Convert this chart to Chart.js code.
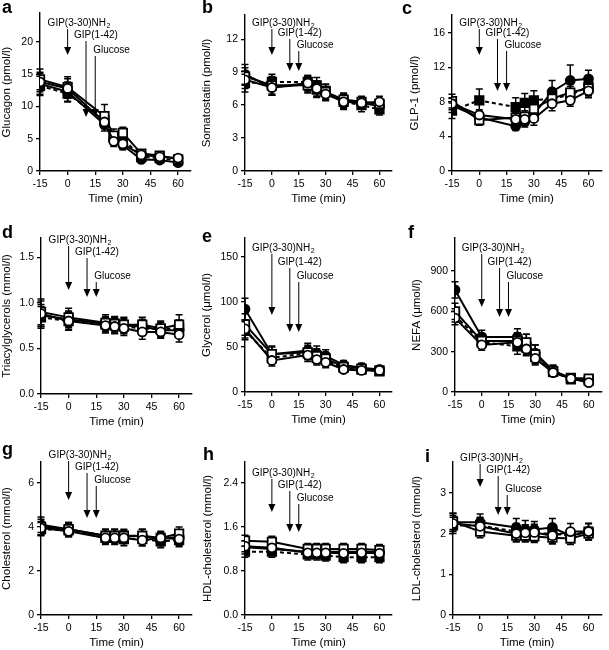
<!DOCTYPE html>
<html>
<head>
<meta charset="utf-8">
<script src="https://cdn.jsdelivr.net/npm/chart.js@4.4.1/dist/chart.umd.min.js"></script>
<style>
body { margin: 0; background: #fff; }
#wrap { position: relative; width: 609px; height: 650px; }
canvas { position: absolute; }
</style>
</head>
<body>
<div id="wrap"></div>
<script>
// sampling times (min) and x tick labels
const times = [-15, 0, 20, 25, 30, 40, 50, 60];
const xTicks = [-15, 0, 15, 30, 45, 60];

// each panel: [filled circle, open circle, filled square (dashed), open square]
const glucagon = [
    [13.5, 12.3, 7.2, 5.0, 4.0, 1.8, 1.7, 1.3],
    [13.8, 12.8, 7.6, 4.6, 4.2, 2.5, 2.2, 2.0],
    [13.2, 12.0, 7.8, 5.2, 5.0, 2.2, 2.0, 1.6],
    [14.2, 13.0, 8.5, 5.5, 5.9, 2.7, 2.4, 1.8]
];
const glucagonErr = [
    [1.6, 1.5, 1.0, 0.8, 0.7, 0.5, 0.4, 0.4],
    [1.5, 1.5, 1.0, 0.8, 0.6, 0.5, 0.4, 0.3],
    [1.5, 1.3, 1.1, 0.9, 0.8, 0.5, 0.4, 0.4],
    [1.6, 1.6, 1.8, 1.0, 0.9, 0.5, 0.5, 0.4]
];
const glucagonTicks = [0, 5, 10, 15, 20];

const somatostatin = [
    [8.8, 7.6, 7.9, 7.5, 7.1, 6.4, 6.2, 5.9],
    [8.3, 7.6, 8.0, 7.5, 7.0, 6.3, 6.2, 6.3],
    [8.0, 8.1, 8.1, 7.8, 7.3, 6.3, 6.0, 5.6],
    [8.6, 7.8, 7.8, 7.4, 7.2, 6.5, 6.3, 6.1]
];
const somatostatinErr = [
    [0.9, 0.7, 0.7, 0.7, 0.6, 0.6, 0.5, 0.5],
    [0.8, 0.7, 0.7, 0.7, 0.6, 0.7, 0.5, 0.5],
    [0.8, 0.7, 0.6, 0.7, 0.6, 0.6, 0.6, 0.5],
    [0.8, 0.8, 0.7, 0.7, 0.7, 0.6, 0.5, 0.5]
];
const somatostatinTicks = [0, 3, 6, 9, 12];

const glp1 = [
    [7.6, 6.2, 5.2, 5.7, 6.6, 9.2, 10.5, 10.7],
    [7.8, 6.5, 6.0, 6.0, 6.1, 7.8, 8.2, 9.3],
    [7.0, 8.2, 7.4, 7.9, 8.2, 8.4, 8.8, 9.8],
    [8.1, 5.9, 6.2, 6.3, 7.2, 8.4, 9.1, 9.6]
];
const glp1Err = [
    [0.8, 0.6, 0.5, 0.6, 0.7, 1.3, 1.8, 1.0],
    [0.7, 0.6, 0.6, 0.7, 0.8, 0.8, 0.7, 0.8],
    [0.9, 1.3, 1.1, 1.1, 1.1, 0.9, 1.0, 1.0],
    [0.8, 0.6, 0.6, 0.7, 0.8, 0.9, 1.0, 1.0]
];
const glp1Ticks = [0, 4, 8, 12, 16];

const triacyl = [
    [0.86, 0.82, 0.77, 0.76, 0.75, 0.74, 0.70, 0.70],
    [0.88, 0.80, 0.75, 0.74, 0.72, 0.68, 0.68, 0.65],
    [0.84, 0.80, 0.76, 0.75, 0.74, 0.72, 0.71, 0.72],
    [0.90, 0.84, 0.78, 0.77, 0.76, 0.76, 0.72, 0.76]
];
const triacylErr = [
    [0.12, 0.09, 0.08, 0.08, 0.08, 0.08, 0.08, 0.08],
    [0.14, 0.10, 0.08, 0.08, 0.08, 0.08, 0.07, 0.08],
    [0.12, 0.09, 0.08, 0.08, 0.08, 0.08, 0.08, 0.09],
    [0.14, 0.10, 0.09, 0.08, 0.08, 0.08, 0.08, 0.11]
];
const triacylTicks = [0, 0.5, 1.0, 1.5];

const glycerol = [
    [92, 42, 46, 43, 40, 30, 27, 25],
    [70, 35, 41, 36, 33, 25, 24, 24],
    [68, 38, 43, 38, 35, 27, 25, 23],
    [75, 42, 44, 40, 37, 28, 26, 24]
];
const glycerolErr = [
    [12, 9, 8, 8, 7, 5, 5, 4],
    [10, 6, 7, 6, 6, 4, 4, 3],
    [10, 6, 7, 6, 6, 4, 4, 3],
    [12, 8, 8, 8, 7, 5, 4, 4]
];
const glycerolTicks = [0, 50, 100, 150];

const nefa = [
    [760, 410, 410, 360, 290, 160, 100, 80],
    [550, 350, 370, 320, 250, 145, 100, 70],
    [570, 370, 340, 330, 260, 150, 95, 85],
    [600, 380, 380, 370, 280, 155, 105, 100]
];
const nefaErr = [
    [60, 50, 60, 70, 60, 40, 25, 20],
    [50, 40, 50, 50, 50, 30, 20, 20],
    [50, 45, 60, 50, 50, 30, 20, 20],
    [60, 45, 60, 60, 70, 40, 25, 20]
];
const nefaTicks = [0, 300, 600, 900];

const cholesterol = [
    [4.10, 3.90, 3.60, 3.60, 3.55, 3.60, 3.45, 3.55],
    [3.95, 3.80, 3.50, 3.50, 3.50, 3.40, 3.50, 3.45],
    [3.90, 3.85, 3.50, 3.50, 3.45, 3.45, 3.35, 3.40],
    [4.00, 3.90, 3.60, 3.60, 3.60, 3.60, 3.50, 3.70]
];
const cholesterolErr = [
    [0.35, 0.3, 0.3, 0.3, 0.3, 0.3, 0.3, 0.3],
    [0.3, 0.25, 0.25, 0.25, 0.25, 0.25, 0.25, 0.3],
    [0.3, 0.3, 0.3, 0.3, 0.3, 0.3, 0.3, 0.3],
    [0.35, 0.3, 0.3, 0.3, 0.3, 0.3, 0.3, 0.3]
];
const cholesterolTicks = [0, 2, 4, 6];

const hdl = [
    [1.23, 1.20, 1.15, 1.15, 1.15, 1.15, 1.15, 1.15],
    [1.25, 1.22, 1.13, 1.13, 1.13, 1.12, 1.13, 1.12],
    [1.15, 1.15, 1.10, 1.10, 1.08, 1.05, 1.05, 1.05],
    [1.35, 1.33, 1.20, 1.20, 1.20, 1.20, 1.20, 1.18]
];
const hdlErr = [
    [0.12, 0.12, 0.12, 0.12, 0.12, 0.12, 0.12, 0.12],
    [0.1, 0.1, 0.1, 0.1, 0.1, 0.1, 0.1, 0.1],
    [0.1, 0.1, 0.1, 0.1, 0.1, 0.1, 0.1, 0.1],
    [0.1, 0.1, 0.1, 0.1, 0.1, 0.1, 0.1, 0.1]
];
const hdlTicks = [0, 0.8, 1.6, 2.4];

const ldl = [
    [2.28, 2.28, 2.15, 2.10, 2.10, 2.15, 1.95, 2.05],
    [2.25, 2.18, 2.00, 2.02, 2.03, 1.95, 2.05, 2.05],
    [2.20, 2.20, 2.05, 2.00, 2.00, 2.00, 1.95, 2.05],
    [2.30, 2.05, 1.95, 1.95, 1.93, 1.90, 1.88, 2.00]
];
const ldlErr = [
    [0.22, 0.2, 0.22, 0.22, 0.2, 0.22, 0.15, 0.2],
    [0.2, 0.2, 0.2, 0.2, 0.2, 0.2, 0.2, 0.2],
    [0.2, 0.2, 0.2, 0.2, 0.2, 0.2, 0.15, 0.2],
    [0.2, 0.15, 0.15, 0.15, 0.15, 0.15, 0.15, 0.15]
];
const ldlTicks = [0, 1, 2, 3];

const FONT = "'Liberation Sans', Arial, Helvetica, sans-serif";
Chart.defaults.font.family = FONT;
Chart.defaults.color = '#000';

// marker styles per series
const styles = [
    { pointStyle: 'circle', radius: 4.5, fill: '#000', dash: [] },
    { pointStyle: 'circle', radius: 4.5, fill: '#fff', dash: [] },
    { pointStyle: 'rect', radius: 6, fill: '#000', dash: [4, 3] },
    { pointStyle: 'rect', radius: 6, fill: '#fff', dash: [] }
];
const drawOrder = [1, 3, 0, 2]; // dataset 0 is drawn on top

// cell: [left, top, width, height]; axis: [left, right, top, bottom] inside the cell
const panels = [
    { letter: 'a', title: 'Glucagon (pmol/l)', data: glucagon, err: glucagonErr, yTicks: glucagonTicks, ymax: 24.5, dec: 0,
      cell: [0, 0, 203, 215], axis: [40, 191, 13, 171], yw: 40, lpos: [2, 13], arrows: [23, 55, 35, 117, 50, 117] },
    { letter: 'b', title: 'Somatostatin (pmol/l)', data: somatostatin, err: somatostatinErr, yTicks: somatostatinTicks, ymax: 14.2, dec: 0,
      cell: [200, 0, 205, 215], axis: [45, 192, 15, 171], yw: 45, lpos: [2, 13], arrows: [23, 55, 33, 71, 45, 71] },
    { letter: 'c', title: 'GLP-1 (pmol/l)', data: glp1, err: glp1Err, yTicks: glp1Ticks, ymax: 18.1, dec: 0,
      cell: [400, 0, 209, 215], axis: [52, 202, 15, 171], yw: 44, lpos: [2, 14], arrows: [23, 55, 33, 91, 45, 91] },
    { letter: 'd', title: 'Triacylglycerols (mmol/l)', data: triacyl, err: triacylErr, yTicks: triacylTicks, ymax: 1.71, dec: 1,
      cell: [0, 215, 203, 215], axis: [41, 192, 23, 179], yw: 41, lpos: [2, 23], arrows: [25, 75, 37, 82, 61, 82] },
    { letter: 'e', title: 'Glycerol (\u03bcmol/l)', data: glycerol, err: glycerolErr, yTicks: glycerolTicks, ymax: 171, dec: 0,
      cell: [200, 215, 205, 215], axis: [45, 192, 23, 177], yw: 45, lpos: [2, 27], arrows: [33, 100, 47, 117, 61, 117] },
    { letter: 'f', title: 'NEFA (\u03bcmol/l)', data: nefa, err: nefaErr, yTicks: nefaTicks, ymax: 1146, dec: 0,
      cell: [400, 215, 209, 215], axis: [55, 202, 23, 177], yw: 45, lpos: [8, 23], arrows: [33, 92, 47, 102, 61, 102] },
    { letter: 'g', title: 'Cholesterol (mmol/l)', data: cholesterol, err: cholesterolErr, yTicks: cholesterolTicks, ymax: 6.95, dec: 0,
      cell: [0, 430, 203, 220], axis: [41, 192, 32, 185], yw: 41, lpos: [2, 25], arrows: [25, 70, 37, 88, 50, 88] },
    { letter: 'h', title: 'HDL-cholesterol (mmol/l)', data: hdl, err: hdlErr, yTicks: hdlTicks, ymax: 2.78, dec: 1,
      cell: [200, 430, 205, 220], axis: [45, 192, 32, 185], yw: 44, lpos: [3, 30], arrows: [43, 82, 55, 102, 68, 102] },
    { letter: 'i', title: 'LDL-cholesterol (mmol/l)', data: ldl, err: ldlErr, yTicks: ldlTicks, ymax: 3.76, dec: 0,
      cell: [400, 430, 209, 220], axis: [53, 202, 32, 185], yw: 43, lpos: [25, 32], arrows: [28, 57, 40, 85, 59, 85] }
];
const XH = 35;

const errorBars = {
    id: 'errorBars',
    beforeDatasetsDraw(chart) {
        const ctx = chart.ctx;
        const y = chart.scales.y;
        ctx.save();
        ctx.strokeStyle = '#000';
        ctx.lineWidth = 1.5;
        chart.data.datasets.forEach((ds, di) => {
            const meta = chart.getDatasetMeta(di);
            meta.data.forEach((pt, i) => {
                const v = ds.data[i].y, e = ds.errors[i];
                const top = y.getPixelForValue(v + e), bot = y.getPixelForValue(v - e);
                ctx.beginPath();
                ctx.moveTo(pt.x, top); ctx.lineTo(pt.x, bot);
                ctx.moveTo(pt.x - 3.5, top); ctx.lineTo(pt.x + 3.5, top);
                ctx.moveTo(pt.x - 3.5, bot); ctx.lineTo(pt.x + 3.5, bot);
                ctx.stroke();
            });
        });
        ctx.restore();
    }
};

const annotations = {
    id: 'annotations',
    afterDraw(chart, args, opts) {
        const ctx = chart.ctx;
        const x = chart.scales.x;
        const a = opts.arrows;
        ctx.save();
        ctx.fillStyle = '#000';
        ctx.strokeStyle = '#000';
        ctx.lineWidth = 1;
        ctx.textBaseline = 'middle';
        ctx.font = '10px ' + FONT;

        const x1 = x.getPixelForValue(0), x2 = x.getPixelForValue(10), x3 = x.getPixelForValue(15);
        ctx.fillText('GIP(3-30)NH', x1 - 20, a[0]);
        const w = ctx.measureText('GIP(3-30)NH').width;
        ctx.font = '7px ' + FONT;
        ctx.fillText('2', x1 - 20 + w + 0.5, a[0] + 3);
        ctx.font = '10px ' + FONT;
        ctx.fillText('GIP(1-42)', x2 - 12, a[2]);
        ctx.fillText('Glucose', x3 - 2, a[4]);

        [[x1, a[0], a[1]], [x2, a[2], a[3]], [x3, a[4], a[5]]].forEach(([px, ty, tip]) => {
            ctx.beginPath();
            ctx.moveTo(px, ty + 6);
            ctx.lineTo(px, tip - 6);
            ctx.stroke();
            ctx.beginPath();
            ctx.moveTo(px - 3.5, tip - 8);
            ctx.lineTo(px + 3.5, tip - 8);
            ctx.lineTo(px, tip);
            ctx.closePath();
            ctx.fill();
        });

        ctx.font = 'bold 18px ' + FONT;
        ctx.textBaseline = 'alphabetic';
        ctx.fillText(opts.letter, opts.lpos[0], opts.lpos[1]);
        ctx.restore();
    }
};

const wrap = document.getElementById('wrap');

panels.forEach(p => {
    const [cl, ct, cw, ch] = p.cell;
    const [al, ar, at, ab] = p.axis;
    const canvas = document.createElement('canvas');
    canvas.width = cw;
    canvas.height = ch;
    canvas.style.left = cl + 'px';
    canvas.style.top = ct + 'px';
    canvas.style.width = cw + 'px';
    canvas.style.height = ch + 'px';
    wrap.appendChild(canvas);

    const datasets = drawOrder.map(s => ({
        data: times.map((t, i) => ({ x: t, y: p.data[s][i] })),
        errors: p.err[s],
        borderColor: '#000',
        borderWidth: 2,
        borderDash: styles[s].dash,
        pointStyle: styles[s].pointStyle,
        pointRadius: styles[s].radius,
        pointBackgroundColor: styles[s].fill,
        pointBorderColor: '#000',
        pointBorderWidth: 1.8,
        fill: false,
        tension: 0
    }));

    new Chart(canvas.getContext('2d'), {
        type: 'line',
        data: { datasets: datasets },
        options: {
            responsive: false,
            animation: false,
            events: [],
            layout: {
                padding: { left: al - p.yw, right: cw - ar, top: at, bottom: ch - ab - XH }
            },
            scales: {
                x: {
                    type: 'linear',
                    min: -15,
                    max: 67,
                    afterBuildTicks: s => { s.ticks = xTicks.map(v => ({ value: v })); },
                    afterFit: s => { s.height = XH; },
                    ticks: { font: { size: 10.5 }, color: '#000', padding: 3, maxRotation: 0 },
                    grid: { drawOnChartArea: false, tickLength: 4, color: '#000', lineWidth: 1.3 },
                    border: { display: true, color: '#000', width: 1.4 },
                    title: { display: true, text: 'Time (min)', font: { size: 11.5 }, color: '#000', padding: 0 }
                },
                y: {
                    min: 0,
                    max: p.ymax,
                    afterBuildTicks: s => { s.ticks = p.yTicks.map(v => ({ value: v })); },
                    afterFit: s => { s.width = p.yw; },
                    ticks: {
                        font: { size: 10.5 },
                        color: '#000',
                        padding: 3,
                        callback: v => Number(v).toFixed(p.dec)
                    },
                    grid: { drawOnChartArea: false, tickLength: 4, color: '#000', lineWidth: 1.3 },
                    border: { display: true, color: '#000', width: 1.4 },
                    title: { display: true, text: p.title, font: { size: 11.5 }, color: '#000', padding: 0 }
                }
            },
            plugins: {
                legend: { display: false },
                tooltip: { enabled: false },
                annotations: { arrows: p.arrows, letter: p.letter, lpos: p.lpos }
            }
        },
        plugins: [errorBars, annotations]
    });
});
</script>
</body>
</html>
